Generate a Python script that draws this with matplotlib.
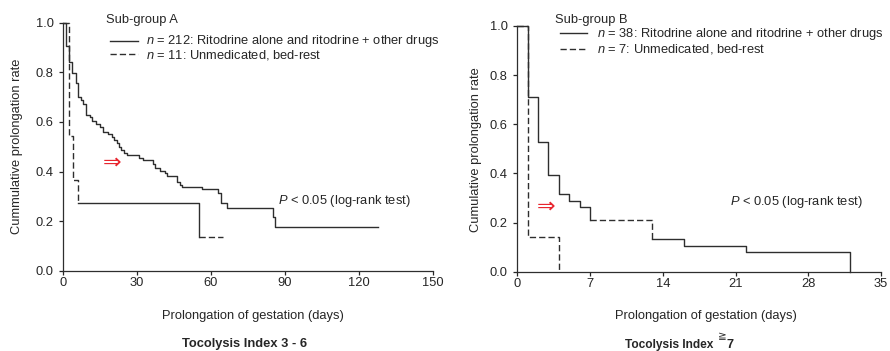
import matplotlib
matplotlib.use("Agg")
import matplotlib.pyplot as plt
from matplotlib.lines import Line2D

plt.rcParams['font.family'] = ['Liberation Sans', 'DejaVu Sans']
plt.rcParams['mathtext.fontset'] = 'custom'
plt.rcParams['mathtext.it'] = 'Liberation Sans:italic'
plt.rcParams['mathtext.rm'] = 'Liberation Sans'

# Sub-group A (Tocolysis Index 3 - 6)
a_drug_days = [0, 1.1, 2.3, 3.4, 5.2, 6.1, 7.1, 8.1, 9.2, 10.8, 11.8, 13.3, 14.9, 16.2,
               18.2, 19.6, 20.6, 21.7, 22.5, 23.3, 24.6, 26.0, 30.9, 32.5, 36.3, 37.2,
               39.3, 41.3, 42.0, 46.0, 47.4, 48.0, 56.2, 62.9, 63.9, 66.3, 85.0, 85.9, 127.6]
a_drug_rate = [1.0, 0.906, 0.843, 0.798, 0.756, 0.70, 0.688, 0.671, 0.628, 0.618, 0.605,
               0.592, 0.578, 0.561, 0.55, 0.54, 0.527, 0.514, 0.50, 0.487, 0.476, 0.467,
               0.453, 0.446, 0.43, 0.413, 0.403, 0.393, 0.383, 0.359, 0.346, 0.339, 0.328,
               0.312, 0.272, 0.252, 0.218, 0.177, 0.177]
a_rest_days = [0, 2.2, 4.1, 5.9, 55.2, 64.7]
a_rest_rate = [1.0, 0.545, 0.364, 0.273, 0.136, 0.136]

# Sub-group B (Tocolysis Index >= 7)
b_drug_days = [0, 1, 2, 3, 4, 5, 6, 7, 13, 16, 22, 32]
b_drug_rate = [1.0, 0.711, 0.526, 0.395, 0.316, 0.289, 0.263, 0.211, 0.132, 0.105, 0.079, 0.0]
b_rest_days = [0, 1, 4]
b_rest_rate = [1.0, 0.143, 0.0]

W, H = 890, 351
LC = '#2e2e2e'
TC = '#262626'
FS = 9.3
SOLID = '-'
DASH = (0, (4.5, 2.2))

fig = plt.figure(figsize=(W / 100, H / 100), dpi=100)


def fx(px):
    return px / W


def fy(py):
    return 1 - py / H


def km(ax, t, s, pieces):
    # pieces: (first index, last index, linestyle)
    for a, b, ls in pieces:
        ax.step(t[a:b + 1], s[a:b + 1], where='post', color=LC, lw=1.0,
                ls=ls, clip_on=False)


def style_axes(ax, xmax, step):
    ax.set_xlim(0, xmax)
    ax.set_ylim(0, 1)
    ax.set_xticks(range(0, xmax + 1, step))
    ax.set_yticks([0, 0.2, 0.4, 0.6, 0.8, 1.0])
    ax.set_yticklabels(['0.0', '0.2', '0.4', '0.6', '0.8', '1.0'])
    for sp in ['top', 'right']:
        ax.spines[sp].set_visible(False)
    for sp in ['left', 'bottom']:
        ax.spines[sp].set_linewidth(0.9)
        ax.spines[sp].set_color(LC)
    ax.tick_params(axis='x', direction='out', length=3, width=0.9, pad=1.8,
                   labelsize=FS, colors=TC)
    ax.tick_params(axis='y', direction='out', length=3, width=0.9, pad=4.0,
                   labelsize=FS, colors=TC)


ax1 = fig.add_axes([fx(63.3), fy(270.7), fx(432.7 - 63.3), (270.7 - 22.7) / H])
ax2 = fig.add_axes([fx(517.3), fy(271.7), fx(881 - 517.3), (271.7 - 26) / H])

style_axes(ax1, 150, 30)
style_axes(ax2, 35, 7)

km(ax1, a_drug_days, a_drug_rate, [(0, len(a_drug_days) - 1, SOLID)])
km(ax1, a_rest_days, a_rest_rate, [(0, 3, DASH), (3, 4, SOLID), (4, 5, DASH)])

km(ax2, b_drug_days, b_drug_rate, [(0, 7, SOLID), (7, 8, DASH), (8, len(b_drug_days) - 1, SOLID)])
km(ax2, b_rest_days, b_rest_rate, [(0, 2, DASH)])

# red arrows
ax1.text(19.8, 0.438, '⇒', color='#e8262f', fontsize=16, ha='center', va='center',
         family=['DejaVu Sans'])
ax2.text(2.76, 0.267, '⇒', color='#e8262f', fontsize=16, ha='center', va='center',
         family=['DejaVu Sans'])

# group titles and legend
fig.text(fx(106), fy(23.5), 'Sub-group A', fontsize=FS, color=TC, va='baseline')
fig.text(fx(555), fy(23.5), 'Sub-group B', fontsize=FS, color=TC, va='baseline')

legend_rows = [
    (110, 137.7, 146, 40.5, 44.0, SOLID, '$n$ = 212: Ritodrine alone and ritodrine + other drugs'),
    (110, 137.7, 146, 54.0, 58.5, DASH, '$n$ = 11: Unmedicated, bed-rest'),
    (560, 586.7, 596.7, 33.3, 36.9, SOLID, '$n$ = 38: Ritodrine alone and ritodrine + other drugs'),
    (560, 586.7, 596.7, 49.3, 52.9, DASH, '$n$ = 7: Unmedicated, bed-rest'),
]
for x0, x1, xt, yl, yt, ls, label in legend_rows:
    fig.add_artist(Line2D([fx(x0), fx(x1)], [fy(yl), fy(yl)], transform=fig.transFigure,
                          color=LC, lw=1.0, ls=ls))
    fig.text(fx(xt), fy(yt), label, fontsize=FS, color=TC, va='baseline')

fig.text(fx(278.3), fy(204), '$P$ < 0.05 (log-rank test)', fontsize=FS, color=TC, va='baseline')
fig.text(fx(730), fy(205.5), '$P$ < 0.05 (log-rank test)', fontsize=FS, color=TC, va='baseline')

# axis labels
fig.text(fx(17.5), fy(146.7), 'Cummulative prolongation rate', fontsize=FS, color=TC,
         rotation=90, ha='center', va='center')
fig.text(fx(476), fy(150), 'Cumulative prolongation rate', fontsize=FS, color=TC,
         rotation=90, ha='center', va='center')
fig.text(fx(253), fy(319), 'Prolongation of gestation (days)', fontsize=FS, color=TC,
         ha='center', va='baseline')
fig.text(fx(706), fy(319.3), 'Prolongation of gestation (days)', fontsize=FS, color=TC,
         ha='center', va='baseline')

# panel captions
fig.text(fx(245), fy(347.5), 'Tocolysis Index 3 - 6', fontsize=FS, color=TC,
         fontweight='bold', ha='center', va='baseline')
fig.text(fx(625), fy(348), 'Tocolysis Index', fontsize=8.6, color=TC,
         fontweight='bold', ha='left', va='baseline')
fig.text(fx(717.5), fy(339.5), '≧', fontsize=7.5, color=TC, ha='left', va='baseline',
         family=['DejaVu Sans'])
fig.text(fx(726.5), fy(348), '7', fontsize=FS, color=TC,
         fontweight='bold', ha='left', va='baseline')

fig.savefig('out.png', dpi=100)
